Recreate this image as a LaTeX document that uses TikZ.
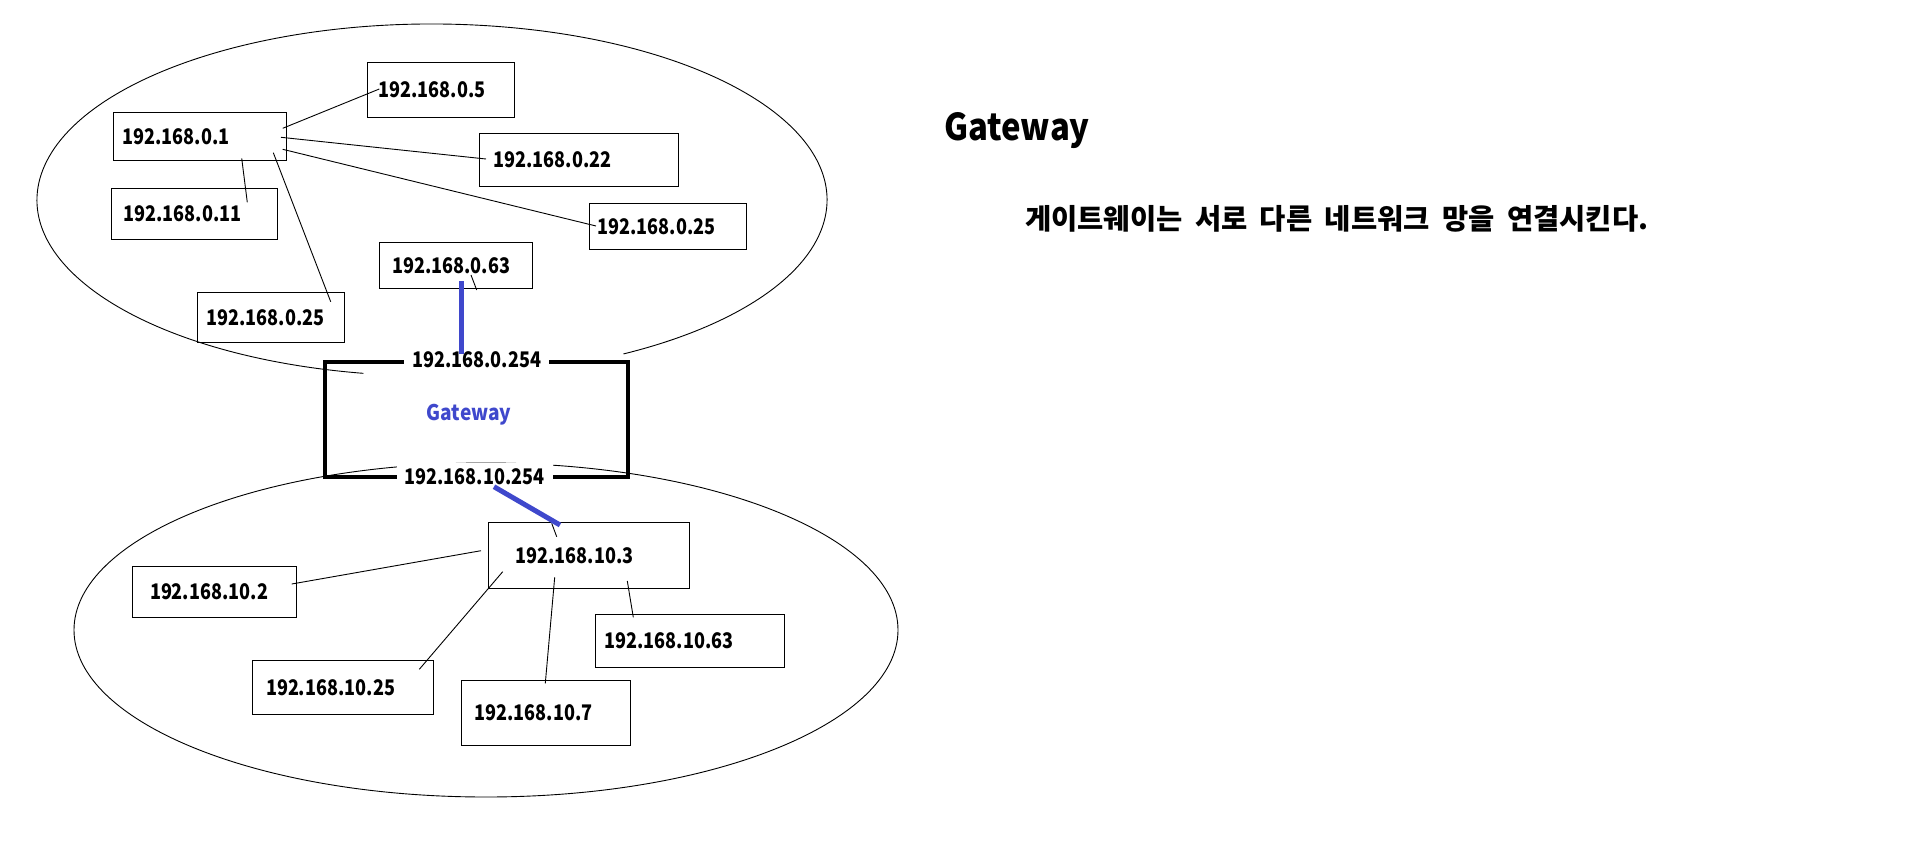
\documentclass[tikz,border=0pt]{standalone}
\usepackage{fontspec}
\setmainfont{Noto Sans CJK KR}
\newfontfamily\ipfam[FakeStretch=0.84]{Noto Sans CJK KR}
\newfontfamily\wordfam[FakeStretch=0.89]{Noto Sans CJK KR}
\usetikzlibrary{positioning,calc}
\definecolor{gwblue}{RGB}{63,72,204}
\newcommand{\ipfont}{\ipfam\bfseries\fontsize{21.5}{24}\selectfont}
\newcommand{\descfont}{\bfseries\fontsize{28.5}{34}\selectfont\spaceskip=12.5pt\relax}
\tikzset{
  host/.style={draw, line width=1pt, anchor=north west, inner ysep=0pt, align=left, font=\ipfont},
  net/.style={line width=0.9pt},
  link/.style={line width=0.9pt},
  gwlink/.style={draw=gwblue, line width=5pt},
  port/.style={fill=white, inner xsep=8pt, inner ysep=6pt, font=\ipfont}
}

\begin{document}
\begin{tikzpicture}[x=1pt, y=-1pt]
  \useasboundingbox (0,0) rectangle (1908,846);
  % the two networks
  \draw[net] (432,200) ++(100:395 and 176) arc[start angle=100, end angle=421, x radius=395, y radius=176];
  \draw[net] (486,630) ellipse [x radius=412, y radius=167];

  % gateway between them
  \node[draw, line width=4pt, anchor=north west, minimum width=303pt, minimum height=115.3pt, inner sep=0pt, outer sep=0pt] (gw) at (325,361.7) {};
  \node[font=\wordfam\bfseries\fontsize{21.5}{24}\selectfont, text=gwblue, anchor=base] (gwname) at (469,420) {Gateway};
  \node[port] (gw0) at ([yshift=2pt]gw.north) {192.168.0.254};
  \node[port] (gw10) at ([xshift=-2pt]gw.south) {192.168.10.254};

  % 192.168.0.x
  \node[host, inner xsep=9pt, text width=155pt, minimum height=48pt] (h1) at (113,112) {192.168.0.1};
  \node[host, inner xsep=11pt, text width=125pt, minimum height=55pt] (h5) at (367,62) {192.168.0.5};
  \node[host, inner xsep=14pt, text width=171pt, minimum height=53pt] (h22) at (479,133) {192.168.0.22};
  \node[host, inner xsep=8pt, text width=141pt, minimum height=46pt] (h25a) at (589,203) {192.168.0.25};
  \node[host, inner xsep=12pt, text width=142pt, minimum height=51pt] (h11) at (111,188) {192.168.0.11};
  \node[host, inner xsep=12.5pt, text width=128pt, minimum height=46pt] (h63) at (379,242) {192.168.0.63};
  \node[host, inner xsep=9pt, text width=129pt, minimum height=50pt] (h25b) at (197,292) {192.168.0.25};

  \draw[link] ($(h1.north west)+(169.7,16.3)$) -- ($(h5.north west)+(12.3,27)$);
  \draw[link] ($(h1.north west)+(168,25.3)$) -- ($(h22.north west)+(7,26)$);
  \draw[link] ($(h1.north west)+(169.7,37.3)$) -- ($(h25a.north west)+(7,23)$);
  \draw[link] ($(h1.north west)+(128.7,46.3)$) -- ($(h11.north west)+(136.3,14.3)$);
  \draw[link] ($(h1.north west)+(160.3,40.7)$) -- ($(h25b.north west)+(133.7,9.7)$);
  \draw[link] ($(h63.north west)+(92,33)$) -- ($(h63.north west)+(97.7,48)$);

  % 192.168.10.x
  \node[host, inner xsep=27pt, text width=147pt, minimum height=66pt] (h103) at (488,522) {192.168.10.3};
  \node[host, inner xsep=17.5pt, text width=129pt, minimum height=51pt] (h102) at (132,566) {192.168.10.2};
  \node[host, inner xsep=13.5pt, text width=154pt, minimum height=54pt] (h1025) at (252,660) {192.168.10.25};
  \node[host, inner xsep=13pt, text width=143pt, minimum height=65pt] (h107) at (461,680) {192.168.10.7};
  \node[host, inner xsep=9pt, text width=171pt, minimum height=53pt] (h1063) at (595,614) {192.168.10.63};

  \draw[link] ($(h103.north west)+(-7,28.7)$) -- ($(h102.north west)+(159.7,18)$);
  \draw[link] ($(h103.north west)+(14.7,49.7)$) -- ($(h1025.north west)+(167.3,9.3)$);
  \draw[link] ($(h103.north west)+(66.7,55.3)$) -- ($(h107.north west)+(84.3,3.3)$);
  \draw[link] ($(h103.north west)+(139.3,59)$) -- ($(h1063.north west)+(38.3,3.3)$);
  \draw[link] ($(h103.north west)+(63.7,1.3)$) -- ($(h103.north west)+(68.7,14.7)$);

  % gateway ports
  \draw[gwlink] ($(h63.north west)+(82.7,39)$) -- ($(gw0.center)+(-14.8,-5.7)$);
  \draw[gwlink] ($(gw10.center)+(19.5,9.7)$) -- ($(h103.north west)+(72,3)$);

  % note on the right
  \node[anchor=base west, inner sep=0pt, font=\wordfam\bfseries\fontsize{37}{44}\selectfont] (title) at (944,140.7) {Gateway};
  \node[anchor=base west, inner sep=0pt, font=\descfont] (desc) at (1025,229.5) {게이트웨이는 서로 다른 네트워크 망을 연결시킨다.};
\end{tikzpicture}
\end{document}
